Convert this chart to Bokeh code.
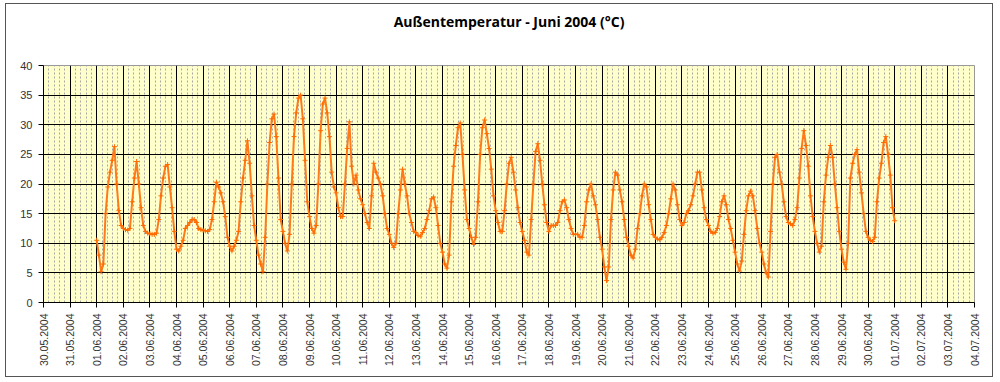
import math
from bokeh.plotting import figure
from bokeh.models import FixedTicker, Range1d, ColumnDataSource, Title
from bokeh.embed import file_html
from bokeh.resources import INLINE

# ---- tick labels (one per day, 30.05.2004 ... 04.07.2004) ----
date_labels = [
    "30.05.2004", "31.05.2004", "01.06.2004", "02.06.2004", "03.06.2004",
    "04.06.2004", "05.06.2004", "06.06.2004", "07.06.2004", "08.06.2004",
    "09.06.2004", "10.06.2004", "11.06.2004", "12.06.2004", "13.06.2004",
    "14.06.2004", "15.06.2004", "16.06.2004", "17.06.2004", "18.06.2004",
    "19.06.2004", "20.06.2004", "21.06.2004", "22.06.2004", "23.06.2004",
    "24.06.2004", "25.06.2004", "26.06.2004", "27.06.2004", "28.06.2004",
    "29.06.2004", "30.06.2004", "01.07.2004", "02.07.2004", "03.07.2004",
    "04.07.2004",
]
y_ticks = [0, 5, 10, 15, 20, 25, 30, 35, 40]
title_text = "Außentemperatur - Juni 2004 (°C)"

# ---- temperatures (°C), read every 2 hours: 00,02,...,22 h ----
jun01 = [10.5, 8.0, 5.2, 6.5, 15.0, 19.5, 22.0, 24.0, 26.3, 20.0, 15.5, 13.0]
jun02 = [12.5, 12.3, 12.2, 12.5, 17.0, 21.0, 23.8, 20.0, 16.0, 13.0, 12.0, 11.7]
jun03 = [11.6, 11.5, 11.5, 11.7, 14.0, 18.0, 21.0, 23.0, 23.3, 19.5, 16.0, 12.0]
jun04 = [9.0, 8.7, 9.5, 10.5, 12.5, 13.0, 13.5, 14.0, 14.0, 13.5, 12.5, 12.3]
jun05 = [12.2, 12.1, 12.0, 12.3, 14.0, 17.0, 20.3, 19.5, 18.5, 17.0, 14.5, 11.0]
jun06 = [9.5, 8.7, 9.5, 10.5, 12.0, 17.0, 21.0, 24.0, 27.3, 23.5, 18.0, 13.0]
jun07 = [10.5, 8.0, 6.5, 5.2, 11.0, 20.0, 27.0, 31.0, 31.8, 28.0, 21.0, 14.0]
jun08 = [12.0, 10.0, 8.7, 11.5, 20.0, 28.0, 32.0, 34.5, 35.0, 31.0, 24.0, 17.0]
jun09 = [14.5, 12.5, 11.7, 13.0, 20.0, 29.0, 33.5, 34.5, 32.0, 28.0, 22.0, 19.5]
jun10 = [18.5, 16.0, 14.5, 14.5, 20.0, 26.0, 30.5, 23.0, 20.0, 21.5, 19.0, 17.5]
jun11 = [16.5, 15.0, 13.5, 12.5, 18.0, 23.5, 22.0, 21.0, 20.0, 18.0, 15.0, 12.5]
jun12 = [11.5, 10.0, 9.3, 10.0, 15.0, 19.0, 22.5, 20.0, 18.0, 15.0, 13.5, 12.0]
jun13 = [11.8, 11.3, 11.2, 11.8, 12.5, 14.0, 15.5, 17.5, 17.8, 16.0, 13.0, 10.0]
jun14 = [8.5, 6.5, 5.8, 8.0, 17.0, 23.0, 26.5, 29.5, 30.3, 25.0, 19.0, 14.0]
jun15 = [12.5, 11.0, 9.8, 11.0, 17.0, 25.0, 29.5, 30.8, 28.5, 26.0, 22.5, 18.0]
jun16 = [15.5, 13.5, 12.0, 12.0, 15.5, 20.0, 23.5, 24.5, 22.0, 19.0, 16.0, 13.5]
jun17 = [12.0, 10.5, 8.5, 8.0, 14.0, 20.0, 25.5, 26.8, 24.0, 20.0, 16.5, 13.5]
jun18 = [12.0, 13.0, 13.0, 13.0, 13.5, 15.5, 17.0, 17.3, 16.0, 14.0, 12.5, 11.5]
jun19 = [11.5, 11.5, 11.0, 11.0, 13.0, 17.0, 19.0, 20.0, 18.0, 16.5, 14.0, 11.0]
jun20 = [9.0, 6.0, 3.7, 6.0, 14.0, 19.0, 22.0, 21.5, 19.0, 17.0, 14.0, 11.0]
jun21 = [9.5, 8.0, 7.5, 9.0, 12.5, 15.0, 18.0, 20.0, 19.5, 16.5, 14.0, 11.5]
jun22 = [11.0, 10.7, 10.6, 11.0, 11.8, 13.0, 15.0, 17.5, 20.0, 19.0, 16.5, 14.0]
jun23 = [13.0, 13.5, 15.0, 15.5, 16.5, 18.0, 20.0, 22.0, 22.0, 19.0, 16.0, 14.0]
jun24 = [13.0, 12.0, 11.7, 11.8, 12.5, 14.5, 17.0, 18.0, 16.5, 14.0, 12.5, 10.5]
jun25 = [8.5, 6.5, 5.3, 7.0, 11.5, 15.5, 18.0, 18.8, 18.0, 15.5, 12.5, 10.0]
jun26 = [8.5, 6.5, 5.0, 4.3, 12.0, 20.0, 24.5, 25.0, 22.0, 20.0, 17.0, 14.5]
jun27 = [13.5, 13.3, 13.0, 14.0, 16.0, 21.0, 26.0, 29.0, 26.5, 23.0, 18.0, 14.5]
jun28 = [12.0, 10.0, 8.5, 9.5, 17.0, 21.5, 24.5, 26.5, 24.5, 20.0, 16.0, 12.0]
jun29 = [9.0, 6.8, 5.6, 10.0, 21.0, 23.5, 25.0, 25.8, 22.0, 18.5, 15.0, 12.0]
jun30 = [11.0, 10.5, 10.3, 11.0, 17.0, 21.0, 23.5, 27.0, 28.0, 25.0, 21.5, 16.0]
jul01 = [13.8]

days = [jun01, jun02, jun03, jun04, jun05, jun06, jun07, jun08, jun09, jun10,
        jun11, jun12, jun13, jun14, jun15, jun16, jun17, jun18, jun19, jun20,
        jun21, jun22, jun23, jun24, jun25, jun26, jun27, jun28, jun29, jun30,
        jul01]
temps = [v for d in days for v in d]
# time axis in days since 30.05.2004 00:00; samples every 2 h from 01.06 00:00
t = [2.0 + i / 12.0 for i in range(len(temps))]
src = ColumnDataSource(data=dict(t=t, temp=temps))

FONT = "Liberation Sans"

p = figure(width=988, height=374,
           x_range=Range1d(0, len(date_labels) - 1), y_range=Range1d(0, 40),
           output_backend="svg", toolbar_location=None,
           min_border_left=37, min_border_right=20,
           min_border_bottom=76, min_border_top=0,
           background_fill_color="#FFFFCC", border_fill_color="white")
p.styles = {"border": "1px solid #555555", "margin-left": "5px", "margin-top": "3px"}

# spacer between title and plot frame (closer to the frame than the title)
spacer = Title(text=" ", text_font_size="1px", standoff=23)
p.add_layout(spacer, "above")

p.title.text = title_text
p.title.align = "center"
p.title.vertical_align = "top"
p.title.text_font = "Open Sans"
p.title.text_font_style = "bold"
p.title.text_font_size = "14px"
p.title.text_color = "black"
p.title.standoff = 14

p.outline_line_color = "#999999"

xt = FixedTicker(ticks=list(range(len(date_labels))),
                 minor_ticks=[i * 0.2 for i in range(5 * (len(date_labels) - 1) + 1)])
p.xaxis.ticker = xt
p.xgrid.ticker = xt
p.xaxis.major_label_overrides = {i: s for i, s in enumerate(date_labels)}
p.xaxis.major_label_orientation = math.pi / 2
p.xaxis.major_label_text_font = FONT
p.xaxis.major_label_text_font_size = "10.5px"
p.xaxis.major_label_text_color = "#333333"
p.xaxis.major_tick_out = 5
p.xaxis.major_tick_in = 0
p.xaxis.minor_tick_out = 0
p.xaxis.minor_tick_in = 0
p.xaxis.axis_line_color = "black"
p.xaxis.major_tick_line_color = "black"
p.xaxis.major_label_standoff = 6

yt = FixedTicker(ticks=y_ticks)
p.yaxis.ticker = yt
p.ygrid.ticker = yt
p.yaxis.major_label_text_font = FONT
p.yaxis.major_label_text_font_size = "11px"
p.yaxis.major_label_text_color = "#333333"
p.yaxis.major_tick_out = 5
p.yaxis.major_tick_in = 0
p.yaxis.minor_tick_out = 0
p.yaxis.minor_tick_in = 0
p.yaxis.axis_line_color = "black"
p.yaxis.major_tick_line_color = "black"
p.yaxis.major_label_standoff = 6

p.xgrid.grid_line_color = "black"
p.xgrid.grid_line_width = 1
p.xgrid.minor_grid_line_color = "#A6A6A6"
p.xgrid.minor_grid_line_dash = "2 2"
p.ygrid.grid_line_color = "black"
p.ygrid.grid_line_width = 1

p.line("t", "temp", source=src, line_color="#FF7A1A", line_width=2)
p.scatter("t", "temp", source=src, marker="cross", size=5,
          line_color="#FF6A00", line_width=1)

open("out.html", "w").write(file_html(p, INLINE))
